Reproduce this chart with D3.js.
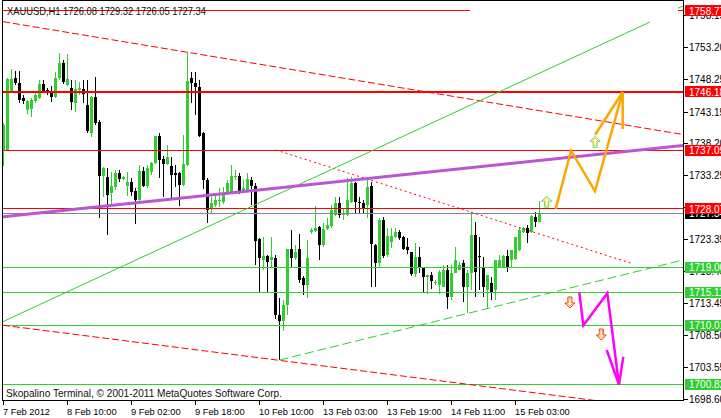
<!DOCTYPE html>
<html><head><meta charset="utf-8">
<script src="https://cdn.jsdelivr.net/npm/d3@7"></script>
<style>html,body{margin:0;padding:0;background:#fff;overflow:hidden}svg{display:block}</style>
</head><body><svg id="c" width="721" height="418"></svg>
<script>
// ---------- data ----------
const opens=[1737.19,1737.19,1746.34,1748.35,1747.57,1745.25,1743.39,1743.54,1744.79,1745.25,1747.42,1746.49,1746.34,1745.41,1748.35,1750.67,1747.26,1746.80,1744.47,1746.49,1746.65,1744.16,1739.83,1745.41,1741.53,1733.16,1733.00,1730.53,1731.46,1733.64,1732.70,1731.61,1732.23,1730.84,1729.44,1733.93,1731.61,1733.78,1735.18,1739.36,1735.80,1735.02,1734.71,1733.64,1733.64,1731.77,1734.87,1748.35,1747.57,1746.95,1739.83,1732.54,1728.05,1728.67,1729.28,1729.13,1730.53,1730.68,1733.00,1733.16,1730.68,1730.99,1732.54,1731.61,1723.40,1720.14,1720.76,1720.14,1720.45,1711.62,1710.70,1713.16,1721.85,1720.45,1721.85,1717.35,1716.26,1724.48,1724.64,1725.26,1722.47,1724.94,1725.41,1727.11,1728.97,1727.11,1727.11,1729.13,1732.07,1729.13,1728.97,1728.67,1731.61,1722.47,1719.67,1726.34,1720.92,1722.93,1723.71,1724.48,1723.71,1722.16,1721.38,1717.97,1720.61,1718.90,1717.51,1717.82,1716.58,1716.26,1715.95,1718.59,1714.41,1718.12,1718.59,1719.67,1715.95,1718.12,1724.02,1720.76,1719.05,1715.49,1716.58,1715.49,1719.05,1719.05,1720.76,1720.14,1720.30,1721.69,1724.48,1725.10,1724.48,1726.80,1726.08];
const highs=[1741.38,1748.35,1749.74,1749.44,1749.44,1745.72,1744.94,1745.25,1746.03,1748.04,1748.04,1746.80,1747.11,1749.28,1752.23,1751.14,1752.07,1748.04,1748.04,1747.73,1748.04,1748.04,1745.56,1748.51,1741.84,1734.56,1734.40,1733.78,1734.09,1734.09,1733.16,1733.78,1732.85,1731.30,1734.86,1734.56,1734.86,1735.33,1739.36,1739.83,1736.26,1737.97,1736.11,1734.87,1733.78,1739.52,1752.38,1749.28,1749.28,1748.04,1739.98,1732.85,1729.91,1730.53,1731.30,1731.46,1732.54,1734.87,1734.09,1733.64,1732.54,1733.64,1733.00,1732.07,1723.55,1723.71,1720.92,1723.71,1720.92,1714.25,1713.94,1721.85,1724.79,1722.47,1724.17,1717.66,1723.24,1725.10,1728.51,1725.41,1725.87,1726.65,1728.67,1729.91,1729.91,1728.20,1732.85,1733.00,1732.23,1729.91,1729.44,1733.00,1732.23,1722.62,1726.65,1726.80,1725.10,1725.10,1725.10,1724.79,1723.86,1723.55,1721.38,1722.78,1722.16,1718.90,1717.82,1718.28,1717.04,1718.59,1719.36,1719.36,1719.36,1722.16,1719.83,1720.14,1718.59,1727.58,1726.03,1723.71,1720.61,1717.82,1717.51,1720.14,1720.92,1720.92,1721.69,1721.69,1723.71,1725.26,1725.26,1725.56,1727.11,1727.58,1729.32];
const lows=[1734.71,1737.04,1746.18,1747.26,1744.47,1744.32,1742.77,1742.31,1744.47,1745.09,1746.18,1745.72,1744.63,1745.25,1748.04,1747.42,1747.11,1743.39,1743.08,1745.72,1744.47,1739.83,1739.21,1741.07,1726.65,1729.91,1724.02,1728.67,1730.99,1732.23,1732.54,1730.06,1730.06,1725.72,1729.28,1731.46,1731.30,1733.31,1735.02,1732.85,1729.91,1734.87,1729.75,1731.46,1728.51,1731.61,1734.71,1744.47,1742.62,1739.21,1731.14,1725.87,1727.43,1728.36,1728.36,1728.82,1730.22,1730.53,1732.54,1730.37,1730.53,1730.84,1728.67,1719.36,1715.03,1718.59,1715.18,1719.05,1711.00,1704.64,1709.14,1711.62,1719.05,1720.14,1716.57,1714.72,1714.25,1724.17,1724.48,1720.14,1722.16,1724.79,1725.10,1726.96,1726.65,1726.34,1726.96,1728.97,1727.43,1727.43,1727.43,1726.65,1715.95,1715.95,1718.90,1720.45,1720.61,1722.00,1723.55,1723.24,1721.69,1721.07,1717.66,1717.51,1718.12,1715.18,1714.87,1715.64,1716.26,1714.87,1715.95,1712.54,1713.94,1718.12,1718.59,1713.63,1711.92,1715.49,1714.41,1715.49,1714.41,1712.70,1713.94,1713.94,1718.90,1718.90,1718.28,1718.90,1720.14,1721.53,1724.33,1722.78,1724.33,1725.26,1726.05];
const closes=[1741.07,1748.20,1748.20,1747.57,1744.94,1744.79,1744.79,1744.94,1745.72,1747.42,1746.34,1746.03,1745.41,1748.35,1750.67,1747.73,1748.20,1744.63,1746.65,1746.80,1745.87,1740.14,1745.41,1741.38,1733.16,1734.40,1730.22,1731.61,1733.64,1732.70,1733.00,1732.23,1730.68,1729.44,1733.93,1731.61,1734.40,1735.18,1739.36,1735.64,1735.02,1736.11,1733.31,1733.31,1731.77,1735.02,1747.88,1747.57,1746.95,1739.36,1732.54,1727.89,1728.97,1729.44,1729.44,1730.53,1732.07,1733.16,1733.16,1730.68,1731.30,1732.70,1731.61,1723.09,1720.45,1720.76,1719.83,1720.61,1711.62,1710.70,1713.16,1721.85,1720.45,1721.38,1717.04,1716.26,1720.45,1724.79,1725.10,1722.47,1724.94,1725.56,1727.89,1728.97,1727.11,1727.42,1729.44,1732.07,1729.13,1728.97,1728.04,1731.46,1722.62,1719.67,1726.34,1720.76,1723.86,1723.86,1724.48,1723.55,1721.85,1721.69,1717.97,1720.61,1718.90,1717.51,1717.82,1716.89,1716.73,1718.28,1718.59,1714.41,1718.12,1720.14,1719.36,1715.95,1718.12,1724.02,1718.28,1720.61,1715.95,1717.82,1715.18,1720.14,1720.14,1720.76,1719.05,1721.69,1723.71,1724.79,1725.10,1724.33,1726.96,1726.03,1727.34];

const timeTickBars=[0,16,32,48,64,80,96,112,128];
const timeTickLabels=["7 Feb 2012","8 Feb 10:00","9 Feb 02:00","9 Feb 18:00","10 Feb 10:00","13 Feb 03:00","13 Feb 19:00","14 Feb 11:00","15 Feb 03:00"];
const priceTicks=[1758.15,1753.20,1748.25,1743.15,1738.20,1733.25,1728.30,1723.35,1718.40,1713.45,1708.50,1703.55,1698.60];

const redLevels=[1746.18,1737.09,1728.07];
const redLevelWidths=[2,1,1];
const greenLevels=[1719.00,1715.11,1710.01,1700.82];
const topLevel=1758.77;
const bidPrice=1727.34;
const titleText="XAUUSD,H1  1726.08 1729.32 1726.05 1727.34";
const footerText="Skopalino Terminal, \u00A9 2001-2011 MetaQuotes Software Corp.";

// trend lines as [barIndex, price] pairs
const upperRedDash=[[-0.125,1757.08],[169.875,1739.59]];
const lowerRedDash=[[-0.125,1710.03],[169.875,1696.64]];
const redDotted=[[68.125,1737.19],[157.125,1719.60]];
const greenSolid=[[-0.125,1710.60],[161.625,1757.03]];
const greenSolidTail=[[168.6,1759.15],[169.9,1759.51]];
const greenDashed=[[69,1704.64],[169.875,1720.14]];
const purpleLine=[[-0.125,1726.85],[169.875,1737.89]];
const orangePath=[[138.05,1728.07],[141.875,1737.09],[147.875,1730.83],[154.8,1746.18],[154.8,1740.44]];
const orangeHead=[[147.875,1739.51],[154.8,1746.18]];
const magentaPath=[[143.95,1715.11],[144.95,1710.01],[150.95,1715.0],[153.875,1700.82]];
const magentaHead=[[150.8,1706.19],[153.875,1700.82],[154.95,1705.15]];
const upArrows=[[135.8,1729.18],[147.9,1738.46]];
const downArrows=[[141.6,1713.55],[149.45,1708.59]];

// ---------- scales ----------
const svg=d3.select("#c");
const x=d3.scaleLinear().domain([0,134]).range([3.5,539.5]);
const y=d3.scaleLinear().domain([1698.60,1753.20]).range([399.0,46.7]);
const PL=2.5, PR=683.5, PT=0.5, PB=400.5;
const FONT="'Liberation Sans', Arial, sans-serif";

svg.append("defs").append("clipPath").attr("id","plot").append("rect")
  .attr("x",3).attr("y",1).attr("width",680).attr("height",399);

const plot=svg.append("g").attr("clip-path","url(#plot)");

// title
svg.append("text").attr("x",7).attr("y",15).attr("font-family",FONT).attr("font-size",10.5)
  .attr("fill","#111").attr("textLength",199).attr("lengthAdjust","spacingAndGlyphs").text(titleText);

// candles
const bars=d3.range(opens.length);
const cg=plot.append("g").attr("shape-rendering","crispEdges");
bars.forEach(i=>{
  const up=closes[i]>=opens[i];
  const col=up?"#32CD32":"#000";
  const cx=x(i);
  cg.append("line").attr("x1",cx).attr("x2",cx).attr("y1",y(highs[i])).attr("y2",y(lows[i]))
    .attr("stroke",col).attr("stroke-width",1);
  const y0=Math.min(y(opens[i]),y(closes[i])), h=Math.max(1,Math.abs(y(opens[i])-y(closes[i])));
  cg.append("rect").attr("x",cx-1.5).attr("y",y0).attr("width",3).attr("height",h).attr("fill",col);
});

const lg=plot.append("g");
const line=d3.line().x(d=>x(d[0])).y(d=>y(d[1]));

// bid line
lg.append("line").attr("x1",3).attr("x2",683).attr("y1",y(bidPrice)).attr("y2",y(bidPrice))
  .attr("stroke","#7d8a96").attr("stroke-width",1).attr("shape-rendering","crispEdges");
// red levels
redLevels.forEach((p,k)=>{
  lg.append("line").attr("x1",3).attr("x2",683).attr("y1",y(p)).attr("y2",y(p))
    .attr("stroke","#ff0000").attr("stroke-width",redLevelWidths[k]).attr("shape-rendering","crispEdges");
});
greenLevels.forEach(p=>{
  lg.append("line").attr("x1",3).attr("x2",683).attr("y1",y(p)).attr("y2",y(p))
    .attr("stroke","#32CD32").attr("stroke-width",1).attr("shape-rendering","crispEdges");
});
// top red level segments
lg.append("line").attr("x1",3).attr("x2",470).attr("y1",y(topLevel)).attr("y2",y(topLevel))
  .attr("stroke","#ff0000").attr("stroke-width",1).attr("shape-rendering","crispEdges");
lg.append("line").attr("x1",678).attr("x2",683).attr("y1",y(topLevel)).attr("y2",y(topLevel))
  .attr("stroke","#ff0000").attr("stroke-width",1).attr("shape-rendering","crispEdges");

// trend lines
lg.append("path").attr("d",line(upperRedDash)).attr("stroke","#ff0000").attr("fill","none").attr("stroke-dasharray","7,3");
lg.append("path").attr("d",line(lowerRedDash)).attr("stroke","#ff0000").attr("fill","none").attr("stroke-dasharray","7,3");
lg.append("path").attr("d",line(redDotted)).attr("stroke","#ff0000").attr("fill","none").attr("stroke-dasharray","2,3");
lg.append("path").attr("d",line(greenSolid)).attr("stroke","#32CD32").attr("fill","none");
lg.append("path").attr("d",line(greenSolidTail)).attr("stroke","#32CD32").attr("fill","none");
lg.append("path").attr("d",line(greenDashed)).attr("stroke","#32CD32").attr("fill","none").attr("stroke-dasharray","9,4");
lg.append("path").attr("d",line(purpleLine)).attr("stroke","#BA55D3").attr("stroke-width",3).attr("fill","none");

// zigzags
lg.append("path").attr("d",line(orangePath)).attr("stroke","#FFA500").attr("stroke-width",2.5).attr("fill","none").attr("stroke-linejoin","miter");
lg.append("path").attr("d",line(orangeHead)).attr("stroke","#FFA500").attr("stroke-width",2.5).attr("fill","none");
lg.append("path").attr("d",line(magentaPath)).attr("stroke","#FF00FF").attr("stroke-width",2.5).attr("fill","none");
lg.append("path").attr("d",line(magentaHead)).attr("stroke","#FF00FF").attr("stroke-width",2.5).attr("fill","none");

// arrows
function arrowPath(cx,cy,s,dir){
  const w=5*s,h=5.5*s,st=2*s;
  const pts=[[0,-h],[w,-0.5*s],[st,-0.5*s],[st,h],[-st,h],[-st,-0.5*s],[-w,-0.5*s]];
  return "M"+pts.map(p=>[cx+p[0],cy+dir*p[1]].join(",")).join("L")+"Z";
}
upArrows.forEach(a=>{
  const cx=x(a[0]),cy=y(a[1]);
  lg.append("path").attr("d",arrowPath(cx,cy,1,1)).attr("fill","#fff").attr("stroke","#5fd05f").attr("stroke-width",1);
  lg.append("path").attr("d",arrowPath(cx,cy,0.65,1)).attr("fill","none").attr("stroke","#f2d23a").attr("stroke-width",1);
});
downArrows.forEach(a=>{
  const cx=x(a[0]),cy=y(a[1]);
  lg.append("path").attr("d",arrowPath(cx,cy,1,-1)).attr("fill","#fff").attr("stroke","#ff2a00").attr("stroke-width",1);
  lg.append("path").attr("d",arrowPath(cx,cy,0.65,-1)).attr("fill","none").attr("stroke","#ffa040").attr("stroke-width",1);
});

// footer text
svg.append("text").attr("x",6).attr("y",396.5).attr("font-family",FONT).attr("font-size",10.5)
  .attr("fill","#111").attr("textLength",276).attr("lengthAdjust","spacingAndGlyphs").text(footerText);

// frame
const fr=svg.append("g").attr("shape-rendering","crispEdges").attr("stroke","#000").attr("stroke-width",1);
fr.append("line").attr("x1",PL).attr("x2",PL).attr("y1",0).attr("y2",PB+0.5);
fr.append("line").attr("x1",PL).attr("x2",PR).attr("y1",PT).attr("y2",PT);
fr.append("line").attr("x1",PR).attr("x2",PR).attr("y1",0).attr("y2",PB+0.5);
fr.append("line").attr("x1",PL).attr("x2",PR).attr("y1",PB).attr("y2",PB);

// price axis ticks + labels
priceTicks.forEach(t=>{
  const yy=Math.round(y(t))+0.5;
  fr.append("line").attr("x1",PR).attr("x2",PR+4).attr("y1",yy).attr("y2",yy);
  svg.append("text").attr("x",689).attr("y",yy+3.8).attr("font-family",FONT).attr("font-size",10)
    .attr("fill","#000").text(t.toFixed(2));
});

// time axis
timeTickBars.forEach((b,k)=>{
  const xx=x(b);
  fr.append("line").attr("x1",xx).attr("x2",xx).attr("y1",PB).attr("y2",PB+4.5);
  svg.append("text").attr("x",xx-0.5).attr("y",414.5).attr("font-family",FONT).attr("font-size",9.3)
    .attr("fill","#000").text(timeTickLabels[k]);
});

// price labels (boxes)
function priceBox(p,bg,dy){
  const yy=y(p)+(dy||0);
  svg.append("rect").attr("x",685).attr("y",yy-5.5).attr("width",40).attr("height",11).attr("fill",bg).attr("shape-rendering","crispEdges");
  svg.append("text").attr("x",689).attr("y",yy+3.8).attr("font-family",FONT).attr("font-size",10)
    .attr("fill","#fff").text(p.toFixed(2));
}
priceBox(bidPrice,"#000");
priceBox(topLevel,"#ff0000");
redLevels.forEach(p=>priceBox(p,"#ff0000"));
greenLevels.forEach(p=>priceBox(p,"#32CD32"));
</script></body></html>
